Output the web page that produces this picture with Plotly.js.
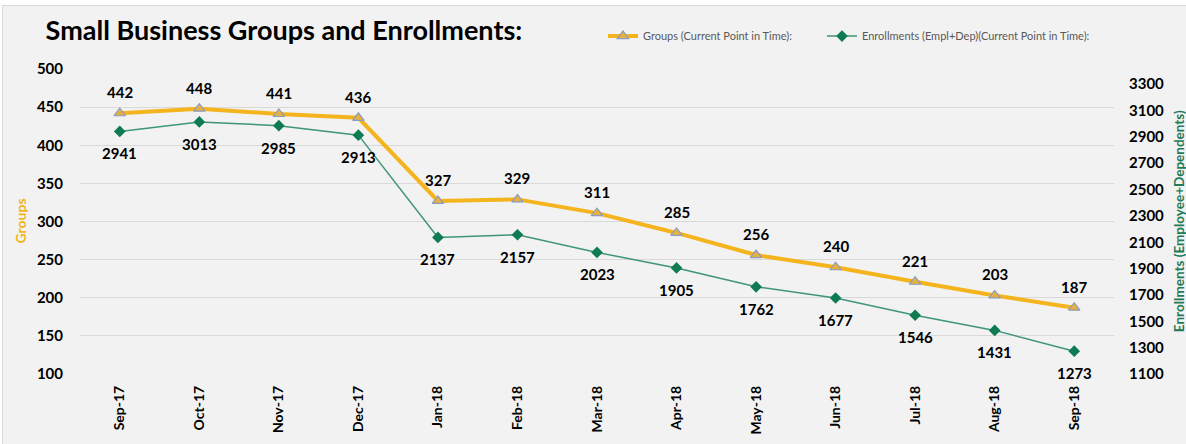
<!DOCTYPE html>
<html>
<head>
<meta charset="utf-8">
<script src="https://cdn.plot.ly/plotly-3.0.1.min.js"></script>
<style>
  html, body { margin: 0; padding: 0; background: #ffffff; }
  #wrap { position: absolute; left: 2px; top: 5px; width: 1184px; height: 439px;
          background: #f2f2f2; border-left: 1px solid #d9d9d9; border-top: 1px solid #d9d9d9; }
  #chart { position: absolute; left: 0; top: 0; width: 1183px; height: 438px; }
</style>
</head>
<body>
<div id="wrap"><div id="chart"></div></div>
<script>
// ---- data ----
const months = ["Sep-17","Oct-17","Nov-17","Dec-17","Jan-18","Feb-18","Mar-18","Apr-18","May-18","Jun-18","Jul-18","Aug-18","Sep-18"];
const groups = [442, 448, 441, 436, 327, 329, 311, 285, 256, 240, 221, 203, 187];
const enrollments = [2941, 3013, 2985, 2913, 2137, 2157, 2023, 1905, 1762, 1677, 1546, 1431, 1273];
const groupsName = "Groups (Current Point in Time):";
const enrollName = "Enrollments (Empl+Dep)(Current Point in Time):";
const titleText = "Small Business Groups and Enrollments:";
const leftTitle = "Groups";
const rightTitle = "Enrollments (Employee+Dependents)";

const gold = "#F4B41E";
const green = "#0F7B52";
const greenLine = "#3E957A";
const FONT = "Lato, 'Open Sans', sans-serif";

const traces = [
  {
    x: months, y: groups, name: groupsName, type: "scatter", mode: "lines+markers",
    line: {color: gold, width: 4},
    marker: {symbol: "triangle-up", size: 10, color: "#E9B040", line: {color: "#8A9CC0", width: 1.2}},
    yaxis: "y", legend: "legend", hoverinfo: "x+y"
  },
  {
    x: months, y: enrollments, name: enrollName, type: "scatter", mode: "lines+markers",
    line: {color: greenLine, width: 1.5},
    marker: {symbol: "diamond", size: 9, color: green},
    yaxis: "y2", legend: "legend2", hoverinfo: "x+y"
  }
];

const annotations = [];
months.forEach((m, i) => {
  annotations.push({x: m, y: groups[i], xref: "x", yref: "y", text: String(groups[i]),
    showarrow: false, yshift: 21, font: {family: FONT, size: 15, color: "#000", weight: "bold"}});
  annotations.push({x: m, y: enrollments[i], xref: "x", yref: "y2", text: String(enrollments[i]),
    showarrow: false, yshift: -22, font: {family: FONT, size: 15, color: "#000", weight: "bold"}});
});
annotations.push({xref: "paper", yref: "paper", x: -0.058, y: 0.5, xanchor: "center", yanchor: "middle",
  text: leftTitle, textangle: -90, showarrow: false,
  font: {family: FONT, size: 14, color: gold, weight: "bold"}});
annotations.push({xref: "paper", yref: "paper", x: 1.0625, y: 0.5, xanchor: "center", yanchor: "middle",
  text: rightTitle, textangle: -90, showarrow: false,
  font: {family: FONT, size: 13.5, color: "#1E7A58", weight: "bold"}});

const legendBase = {orientation: "h", xanchor: "left", y: 1.108, yanchor: "middle",
  bgcolor: "rgba(0,0,0,0)", font: {family: FONT, size: 11, color: "#595959"}};

const layout = {
  width: 1183, height: 438,
  paper_bgcolor: "#f2f2f2", plot_bgcolor: "#f2f2f2",
  margin: {l: 77, r: 72, t: 63, b: 70, autoexpand: false},
  title: {text: titleText, x: 0.036, xanchor: "left", y: 0.945, yanchor: "middle",
          font: {family: FONT, size: 27, color: "#000", weight: "bold"}},
  showlegend: true,
  legend: Object.assign({}, legendBase, {x: 0.5058}),
  legend2: Object.assign({}, legendBase, {x: 0.7176}),
  xaxis: {type: "category", range: [-0.5, 12.5], showgrid: false, zeroline: false, showline: false,
          tickangle: -90, ticks: "", ticklabelstandoff: 8,
          tickfont: {family: FONT, size: 14, color: "#000", weight: "bold"}},
  yaxis: {range: [100, 500], dtick: 50, tick0: 100, showgrid: true, gridcolor: "#d9d9d9", gridwidth: 1,
          zeroline: false, showline: false, ticks: "", ticklabelstandoff: 16,
          tickfont: {family: FONT, size: 15, color: "#000", weight: "bold"}},
  yaxis2: {range: [1100, 3415], tick0: 1100, dtick: 200, overlaying: "y", side: "right",
           showgrid: false, zeroline: false, showline: false, ticks: "", ticklabelstandoff: 14,
           tickfont: {family: FONT, size: 15, color: "#000", weight: "bold"}},
  annotations: annotations
};

Plotly.newPlot("chart", traces, layout, {displayModeBar: false, responsive: false});
</script>
</body>
</html>
